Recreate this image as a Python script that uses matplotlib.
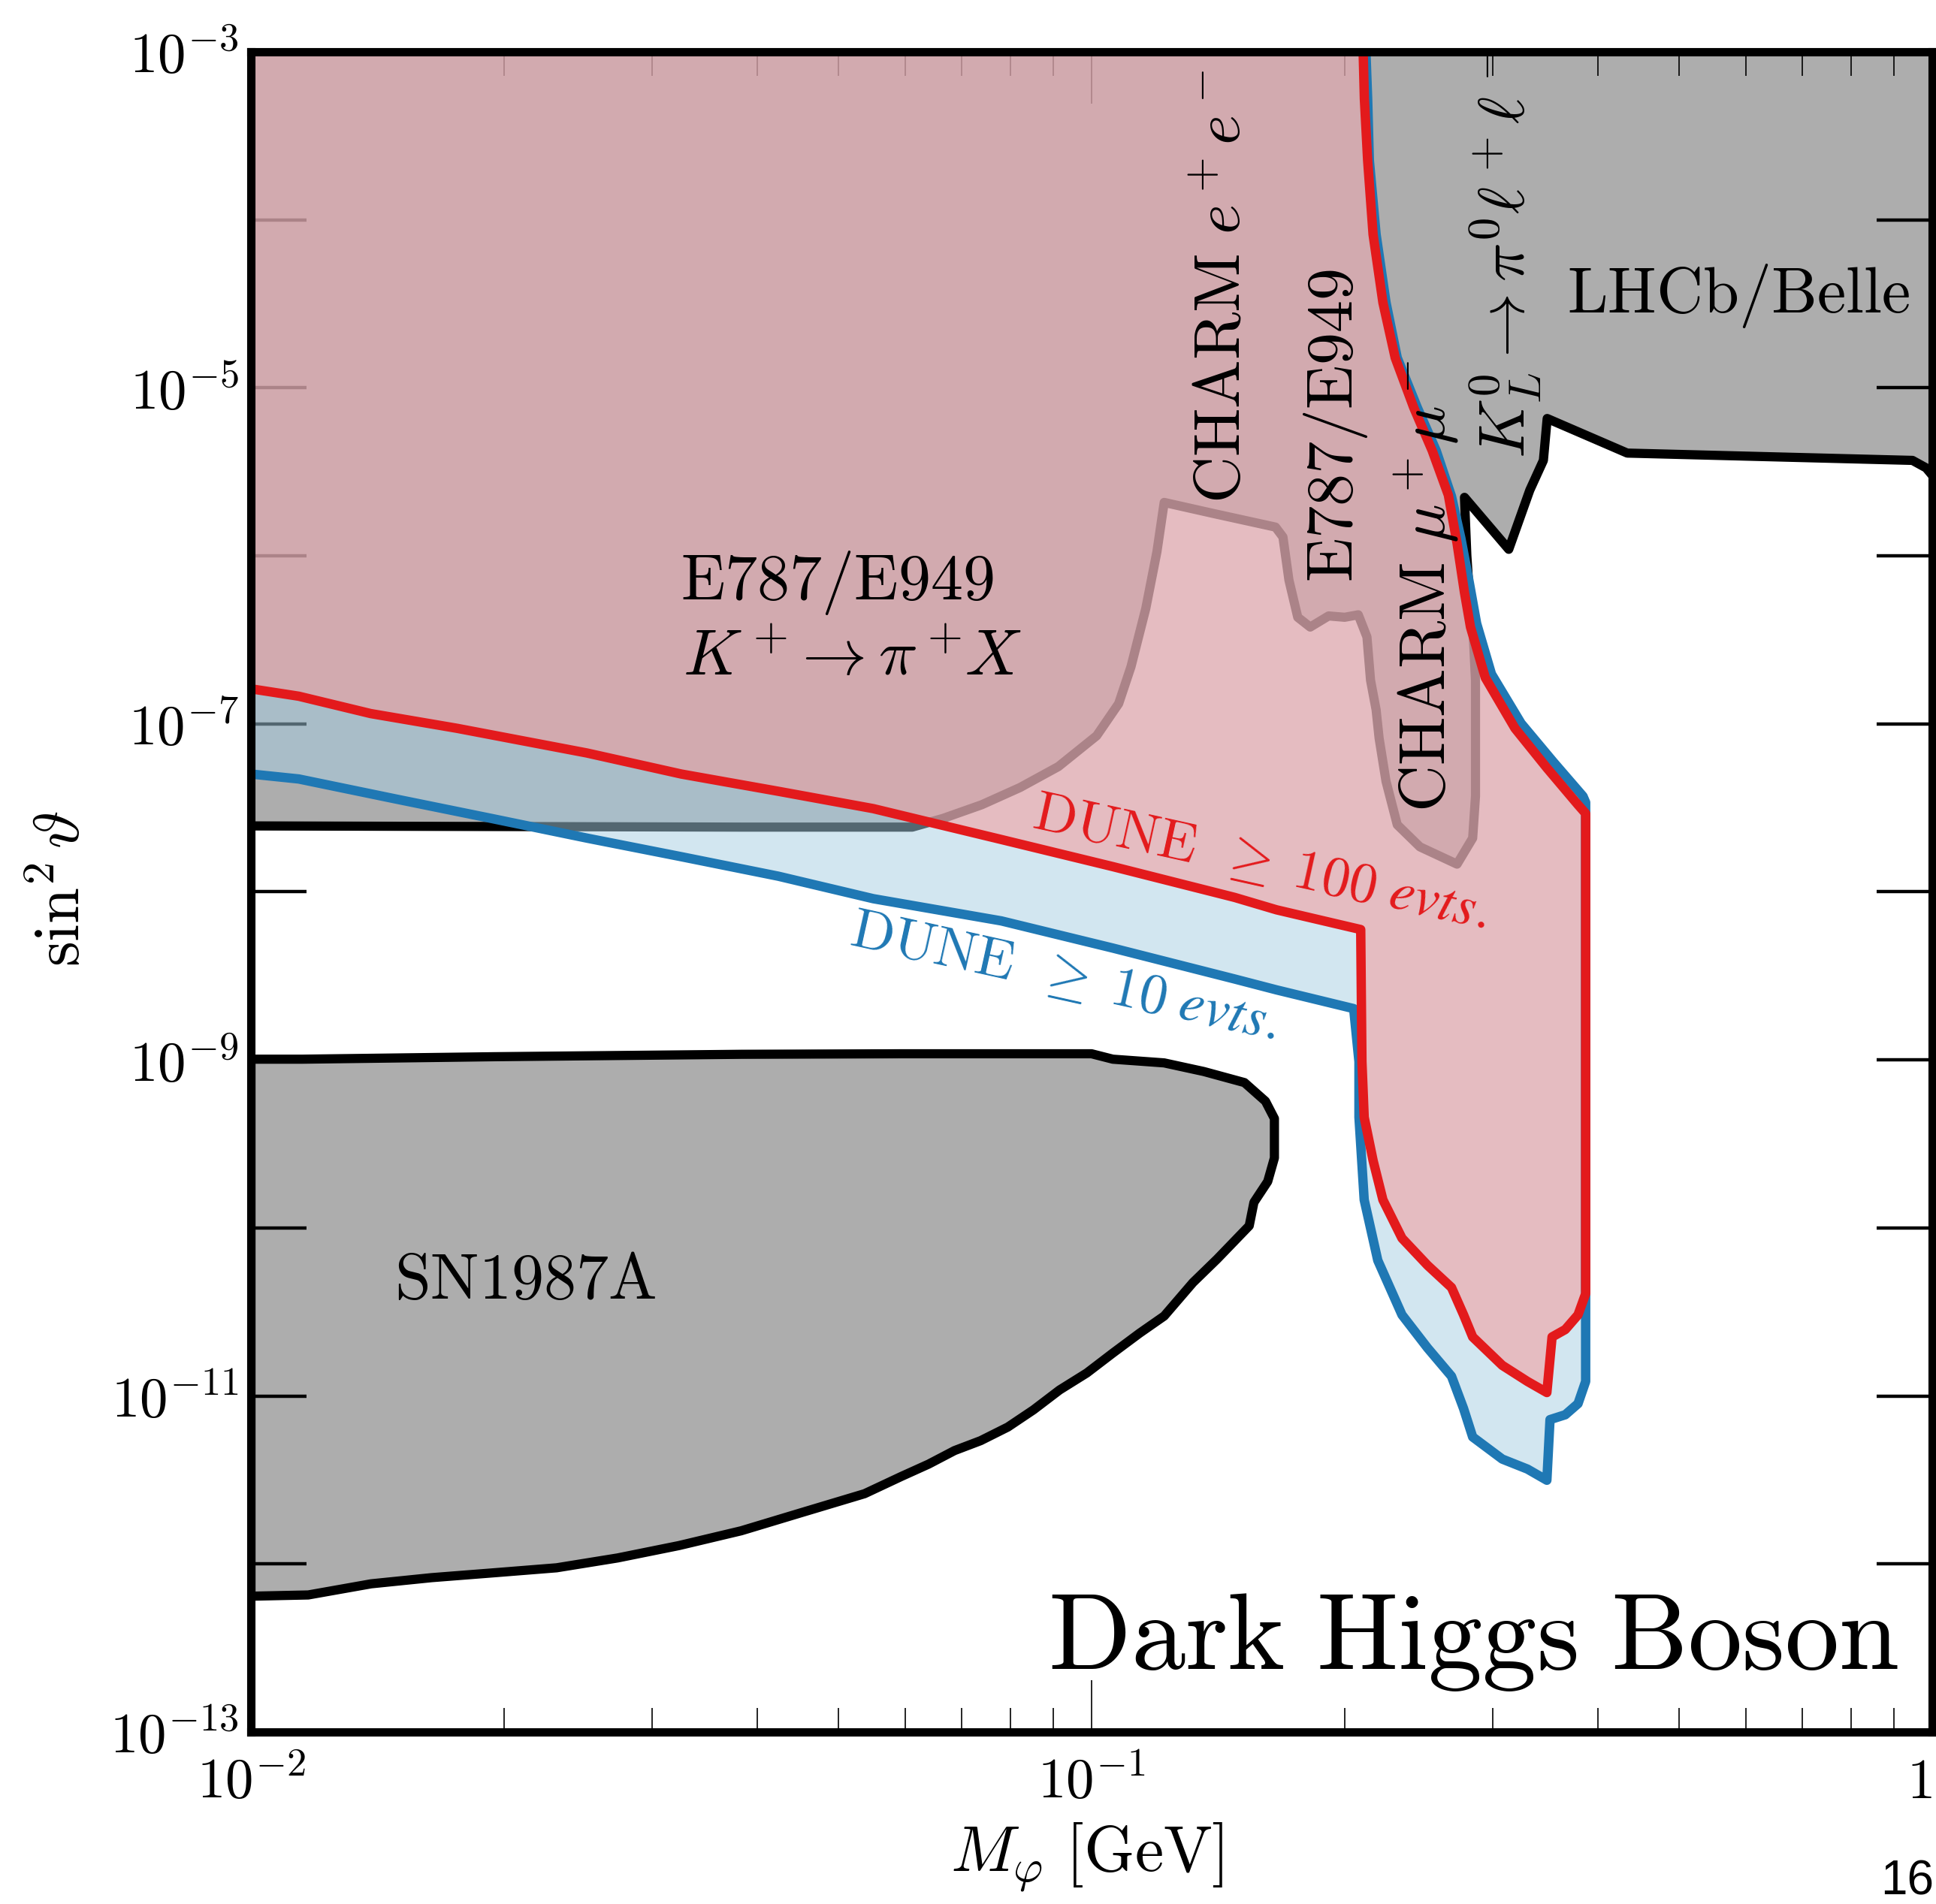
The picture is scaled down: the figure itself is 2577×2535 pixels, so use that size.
import numpy as np
import matplotlib
matplotlib.use("Agg")
import matplotlib.pyplot as plt
from matplotlib.ticker import NullLocator, LogLocator

plt.rcParams['mathtext.fontset'] = 'cm'
plt.rcParams['mathtext.rm'] = 'cmr10'
plt.rcParams['mathtext.it'] = 'STIXGeneral:italic'

# ---------------- data (M_phi in GeV, sin^2 theta) ----------------
# SN1987A excluded island (closed contour)
sn_mass = [0.01, 0.0115, 0.0195, 0.0383, 0.0594, 0.1, 0.106, 0.122, 0.136, 0.152,
           0.161, 0.165, 0.165, 0.162, 0.156, 0.154, 0.141, 0.132, 0.122, 0.114,
           0.106, 0.0987, 0.0916, 0.0853, 0.0795, 0.0738, 0.0687, 0.064, 0.0594, 0.0537,
           0.0453, 0.0383, 0.0323, 0.0273, 0.0231, 0.0195, 0.0164, 0.0139, 0.0117, 0.01]
sn_mix = [1.01e-9, 1.01e-9, 1.045e-9, 1.08e-9, 1.088e-9, 1.088e-9, 1.01e-9, 9.6e-10, 8.53e-10, 7.33e-10,
          5.68e-10, 4.48e-10, 2.61e-10, 1.89e-10, 1.42e-10, 1.03e-10, 6.52e-11, 4.73e-11, 2.99e-11, 2.36e-11,
          1.8e-11, 1.37e-11, 1.085e-11, 8.27e-12, 6.53e-12, 5.42e-12, 4.73e-12, 3.93e-12, 3.32e-12, 2.62e-12,
          2.03e-12, 1.576e-12, 1.287e-12, 1.086e-12, 9.49e-13, 8.87e-13, 8.29e-13, 7.62e-13, 6.54e-13, 6.43e-13]

# lower edge of the existing constraints (E787/E949, CHARM, K_L, LHCb/Belle)
bound_mass = [0.01, 0.0383, 0.0612, 0.0666, 0.074, 0.0822, 0.0913, 0.1014, 0.1077, 0.1114,
              0.116, 0.1196, 0.122, 0.1397, 0.1655, 0.1689, 0.1717, 0.1759, 0.182, 0.1914,
              0.2, 0.2076, 0.2126, 0.2147, 0.218, 0.2198, 0.224, 0.231, 0.2458, 0.2721,
              0.284, 0.2862, 0.2862, 0.2862, 0.284, 0.2823, 0.2795, 0.2777, 0.3135, 0.3321,
              0.3447, 0.3483, 0.4337, 0.9473, 0.9833, 1.0]
bound_mix = [2.47e-8, 2.43e-8, 2.43e-8, 2.74e-8, 3.3e-8, 4.18e-8, 5.57e-8, 8.5e-8, 1.32e-7, 2.19e-7,
             4.86e-7, 1.058e-6, 2.08e-6, 1.786e-6, 1.483e-6, 1.295e-6, 7.17e-7, 4.31e-7, 3.77e-7, 4.39e-7,
             4.31e-7, 4.46e-7, 3.29e-7, 1.82e-7, 1.213e-7, 8.22e-8, 4.55e-8, 2.51e-8, 1.854e-8, 1.463e-8,
             2.09e-8, 3.71e-8, 8.22e-8, 1.82e-7, 3.96e-7, 4.69e-7, 1.005e-6, 2.23e-6, 1.094e-6, 2.46e-6,
             3.7e-6, 6.57e-6, 4.09e-6, 3.7e-6, 3.34e-6, 3.02e-6]

# DUNE >= 100 events contour
dune100_mass = [0.01, 0.0114, 0.01388, 0.01759, 0.0251, 0.0325, 0.0424, 0.055, 0.0781, 0.106,
                0.148, 0.166, 0.209, 0.2097, 0.211, 0.2162, 0.2221, 0.234, 0.251, 0.268,
                0.277, 0.284, 0.308, 0.33, 0.348, 0.353, 0.366, 0.379, 0.387, 0.387,
                0.379, 0.348, 0.3189, 0.294, 0.2823, 0.2777, 0.2721, 0.2657, 0.2542, 0.2416,
                0.2297, 0.2221, 0.2162, 0.213, 0.2111, 0.2104]
dune100_mix = [1.617e-7, 1.461e-7, 1.152e-7, 9.41e-8, 6.71e-8, 5.03e-8, 3.97e-8, 3.13e-8, 2.05e-8, 1.414e-8,
               9.27e-9, 7.82e-9, 5.97e-9, 9.77e-10, 4.56e-10, 2.52e-10, 1.47e-10, 8.69e-11, 5.99e-11, 4.42e-11,
               3.04e-11, 2.245e-11, 1.521e-11, 1.22e-11, 1.048e-11, 2.245e-11, 2.485e-11, 3.04e-11, 4.06e-11, 2.93e-8,
               3.3e-8, 5.47e-8, 9.41e-8, 1.883e-7, 3.77e-7, 6.05e-7, 1.19e-6, 2.3e-6, 4.23e-6, 7.65e-6,
               1.51e-5, 3.22e-5, 8.18e-5, 2.26e-4, 5.26e-4, 1e-3]

# DUNE >= 10 events contour
dune10_mass = [0.01, 0.0114, 0.0148, 0.0193, 0.0251, 0.0325, 0.0424, 0.055, 0.0781, 0.106,
               0.148, 0.166, 0.205, 0.208, 0.208, 0.211, 0.219, 0.234, 0.251, 0.268,
               0.277, 0.284, 0.308, 0.33, 0.348, 0.351, 0.366, 0.379, 0.387, 0.387,
               0.3842, 0.354, 0.3243, 0.299, 0.2871, 0.2814, 0.275, 0.268, 0.257, 0.244,
               0.231, 0.224, 0.218, 0.214, 0.213, 0.212]
dune10_mix = [5.03e-8, 4.7e-8, 3.59e-8, 2.74e-8, 2.09e-8, 1.62e-8, 1.24e-8, 9.11e-9, 6.72e-9, 4.63e-9,
              3.03e-9, 2.61e-9, 2.02e-9, 9.77e-10, 4.56e-10, 1.47e-10, 6.41e-11, 3.04e-11, 1.93e-11, 1.31e-11,
              8.42e-12, 5.7e-12, 4.21e-12, 3.67e-12, 3.15e-12, 7.23e-12, 7.73e-12, 9e-12, 1.22e-11, 3.41e-8,
              3.71e-8, 5.96e-8, 1.007e-7, 1.98e-7, 3.96e-7, 6.93e-7, 1.27e-6, 2.26e-6, 4.23e-6, 7.65e-6,
              1.51e-5, 3.22e-5, 8.18e-5, 2.26e-4, 5.26e-4, 1e-3]

# region labels
label_texts = [r'$\mathrm{E787/E949}$', r'$K^+\!\rightarrow\pi^+\!X$', r'$\mathrm{SN1987A}$',
               r'$\mathrm{LHCb/Belle}$', r'$\mathrm{CHARM}\ e^+e^-$', r'$\mathrm{E787/E949}$',
               r'$\mathrm{CHARM}\ \mu^+\mu^-$', r'$K_L^0\rightarrow\pi^0\ell^+\ell^-$']
label_mass = [0.0498, 0.0519, 0.0212, 0.588, 0.143, 0.195, 0.25, 0.311]
label_mix = [6.93e-7, 2.47e-7, 4.81e-11, 3.51e-5, 4.02e-5, 5.94e-6, 6.58e-7, 6.34e-5]
label_rot = [0, 0, 0, 0, 90, 90, 90, 90]

xtick_vals = [1e-2, 1e-1, 1.0]
xtick_labels = [r'$10^{-2}$', r'$10^{-1}$', r'$1$']
ytick_vals = [1e-13, 1e-12, 1e-11, 1e-10, 1e-9, 1e-8, 1e-7, 1e-6, 1e-5, 1e-4, 1e-3]
ytick_labels = [r'$10^{-13}$', '', r'$10^{-11}$', '', r'$10^{-9}$', '', r'$10^{-7}$', '',
                r'$10^{-5}$', '', r'$10^{-3}$']

XMIN, XMAX, YMIN, YMAX = 1e-2, 1.0, 1e-13, 1e-3

# ---------------- figure ----------------
fig = plt.figure(figsize=(25.77, 25.35), dpi=100)
ax = fig.add_axes([0.12961, 0.09034, 0.86845, 0.88245])
ax.set_xscale('log'); ax.set_yscale('log')
ax.set_xlim(XMIN, XMAX); ax.set_ylim(YMIN, YMAX)

GRAY = '#adadad'
# existing constraints (grey, black edge) - below the DUNE overlays
ax.fill(bound_mass + [XMAX, XMIN], bound_mix + [YMAX, YMAX], color=GRAY, lw=0, zorder=0.1)
ax.plot(bound_mass, bound_mix, color='k', lw=8.8, zorder=0.2, solid_joinstyle='round')
ax.fill(sn_mass, sn_mix, facecolor=GRAY, edgecolor='k', lw=8.8, zorder=0.2, joinstyle='round')

# DUNE sensitivity regions
ax.fill(dune10_mass + [XMIN], dune10_mix + [YMAX], color='#a6cee3', alpha=0.5, lw=0, zorder=1)
ax.fill(dune100_mass + [XMIN], dune100_mix + [YMAX], color='#f59b9b', alpha=0.55, lw=0, zorder=1.1)
ax.plot(dune10_mass, dune10_mix, color='#1f78b4', lw=9, zorder=2, solid_joinstyle='round')
ax.plot(dune100_mass, dune100_mix, color='#e31a1c', lw=9, zorder=2.1, solid_joinstyle='round')

for t, xm, ym, r in zip(label_texts, label_mass, label_mix, label_rot):
    ax.text(xm, ym, t, rotation=r, ha='center', va='center', fontsize=62, zorder=5)

ax.text(0.159, 1.49e-8, r'$\mathrm{DUNE}\ \ \geq\ \mathit{100\ evts.}$', rotation=-12.5,
        color='#e31a1c', ha='center', va='center', fontsize=54, math_fontfamily='custom', zorder=5)
ax.text(0.0928, 3.09e-9, r'$\mathrm{DUNE}\ \ \geq\ \mathit{10\ evts.}$', rotation=-12.5,
        color='#1f78b4', ha='center', va='center', fontsize=54, math_fontfamily='custom', zorder=5)
ax.text(0.913, 2.37e-13, r'$\mathrm{Dark\ Higgs\ Boson}$', ha='right', va='baseline',
        fontsize=104, zorder=5)

# ---------------- axes styling ----------------
ax.set_axisbelow(True)
for s in ax.spines.values():
    s.set_linewidth(8); s.set_zorder(10)
ax.set_yticks(ytick_vals)
ax.set_yticklabels(ytick_labels)
ax.yaxis.set_minor_locator(NullLocator())
ax.set_xticks(xtick_vals)
ax.set_xticklabels(xtick_labels)
ax.get_xticklabels()[-1].set_horizontalalignment('right')
ax.xaxis.set_minor_locator(LogLocator(base=10, subs=np.arange(2, 10)))
ax.tick_params(which='both', direction='in', top=True, right=True)
ax.tick_params(axis='y', which='major', length=53, width=3.2, labelsize=54, pad=12)
ax.tick_params(axis='x', which='major', length=50, width=1.2, labelsize=54, pad=22)
ax.tick_params(axis='x', which='minor', length=23, width=1.2)
ax.set_xlabel(r'$M_\varphi\ [\mathrm{GeV}]$', fontsize=62, va='center')
ax.xaxis.set_label_coords(0.497, -0.0747)
ax.set_ylabel(r'$\sin^2\vartheta$', fontsize=62, va='center', ha='center')
ax.yaxis.set_label_coords(-0.1126, 0.502)
fig.text(0.9852, 0.0118, '16', family='Liberation Sans', fontsize=46, ha='center', va='center')

fig.savefig('out.png', dpi=100)
